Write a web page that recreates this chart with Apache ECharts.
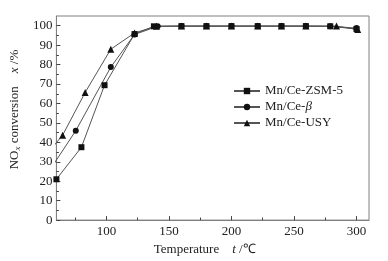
<!DOCTYPE html>
<html>
<head>
<meta charset="utf-8">
<script src="https://cdn.jsdelivr.net/npm/echarts@6/dist/echarts.min.js"></script>
<style>
  html, body { margin: 0; padding: 0; background: #fff; }
  #chart { width: 388px; height: 261px; }
</style>
</head>
<body>
<div id="chart"></div>
<script>
// 读图得到的数据
const zsmX = [60, 80, 98.5, 122.5, 138, 160, 180, 200, 221, 240, 259.5, 279, 300]
const zsmY = [21, 37.5, 69.4, 95.7, 99.7, 99.8, 99.8, 99.8, 99.8, 99.8, 99.8, 99.7, 98.3]
const betaX = [55, 75.5, 103.5, 122.5, 141, 160, 180, 200, 221, 240, 259.5, 279, 300]
const betaY = [26, 46, 78.7, 95.5, 99.7, 99.8, 99.8, 99.8, 99.8, 99.8, 99.8, 99.7, 98.8]
const usyX = [55, 65, 83, 103.5, 122.5, 140, 160, 180, 200, 221, 240, 259.5, 284, 301]
const usyY = [36, 43.7, 65.7, 87.9, 96.3, 99.7, 99.8, 99.8, 99.8, 99.8, 99.8, 99.8, 99.8, 98]

const xTicks = [100, 150, 200, 250, 300]
const xMinor = [75, 125, 175, 225, 275]
const yTicks = [0, 10, 20, 30, 40, 50, 60, 70, 80, 90, 100]
const yMinor = [5, 15, 25, 35, 45, 55, 65, 75, 85, 95]

const names = ['Mn/Ce-ZSM-5', 'Mn/Ce-β', 'Mn/Ce-USY']

const font = 'Liberation Serif, Times New Roman, serif'
const axisColor = '#808080'

function pairs(xs, ys) {
  return xs.map((x, i) => [x, ys[i]])
}

function makeSeries(name, data, symbol, size) {
  return {
    name: name,
    type: 'line',
    data: data,
    symbol: symbol,
    symbolSize: size,
    clip: true,
    lineStyle: { color: '#555', width: 1 },
    itemStyle: { color: '#111' },
    emphasis: { disabled: true }
  }
}

let chart = echarts.init(document.getElementById('chart'))

chart.setOption({
  animation: false,
  textStyle: { fontFamily: font },
  grid: {
    left: 53, right: 19, top: 16, bottom: 38,
    show: true, borderColor: axisColor, borderWidth: 1
  },
  legend: {
    orient: 'vertical',
    left: 228,
    top: 79,
    itemWidth: 26,
    itemHeight: 8,
    itemGap: 2,
    // β 用斜体
    formatter: function(name) {
      return name.replace('β', '{it|β}')
    },
    textStyle: {
      fontFamily: font, fontSize: 13, color: '#222', lineHeight: 14,
      rich: { it: { fontFamily: font, fontSize: 13, fontStyle: 'italic', color: '#222' } }
    },
    data: names
  },
  xAxis: [
    {
      type: 'value', min: 60, max: 310,
      name: 'Temperature    {it|t} /℃',
      nameLocation: 'middle', nameGap: 18,
      nameTextStyle: {
        fontFamily: font, fontSize: 13, color: '#222', padding: [0, 16, 0, 0],
        rich: { it: { fontFamily: font, fontSize: 13, fontStyle: 'italic', color: '#222' } }
      },
      axisLine: { lineStyle: { color: axisColor } },
      axisTick: { inside: true, length: 4, customValues: xTicks, lineStyle: { color: '#444' } },
      axisLabel: { customValues: xTicks, fontSize: 13, color: '#222', margin: 5 },
      splitLine: { show: false }
    },
    {
      type: 'value', min: 60, max: 310, position: 'bottom',
      axisLine: { show: false },
      axisTick: { inside: true, length: 2.5, customValues: xMinor, lineStyle: { color: '#444' } },
      axisLabel: { show: false },
      splitLine: { show: false }
    }
  ],
  yAxis: [
    {
      type: 'value', min: 0, max: 105,
      name: 'NO{sub|x} conversion    {it|x} /%',
      nameLocation: 'middle', nameGap: 26,
      nameTextStyle: {
        fontFamily: font, fontSize: 13, color: '#222', padding: [0, 0, 0, 17],
        rich: {
          sub: { fontFamily: font, fontSize: 9, fontStyle: 'italic', color: '#222', padding: [6, 0, 0, 0] },
          it: { fontFamily: font, fontSize: 13, fontStyle: 'italic', color: '#222' }
        }
      },
      axisLine: { show: true, lineStyle: { color: axisColor } },
      axisTick: { show: true, inside: true, length: 4, customValues: yTicks, lineStyle: { color: '#444' } },
      axisLabel: { customValues: yTicks, fontSize: 13, color: '#222', margin: 4 },
      splitLine: { show: false }
    },
    {
      type: 'value', min: 0, max: 105, position: 'left',
      axisLine: { show: false },
      axisTick: { show: true, inside: true, length: 2.5, customValues: yMinor, lineStyle: { color: '#444' } },
      axisLabel: { show: false },
      splitLine: { show: false }
    }
  ],
  series: [
    makeSeries(names[0], pairs(zsmX, zsmY), 'rect', 6),
    makeSeries(names[1], pairs(betaX, betaY), 'circle', 6),
    makeSeries(names[2], pairs(usyX, usyY), 'triangle', 7)
  ]
})
</script>
</body>
</html>
